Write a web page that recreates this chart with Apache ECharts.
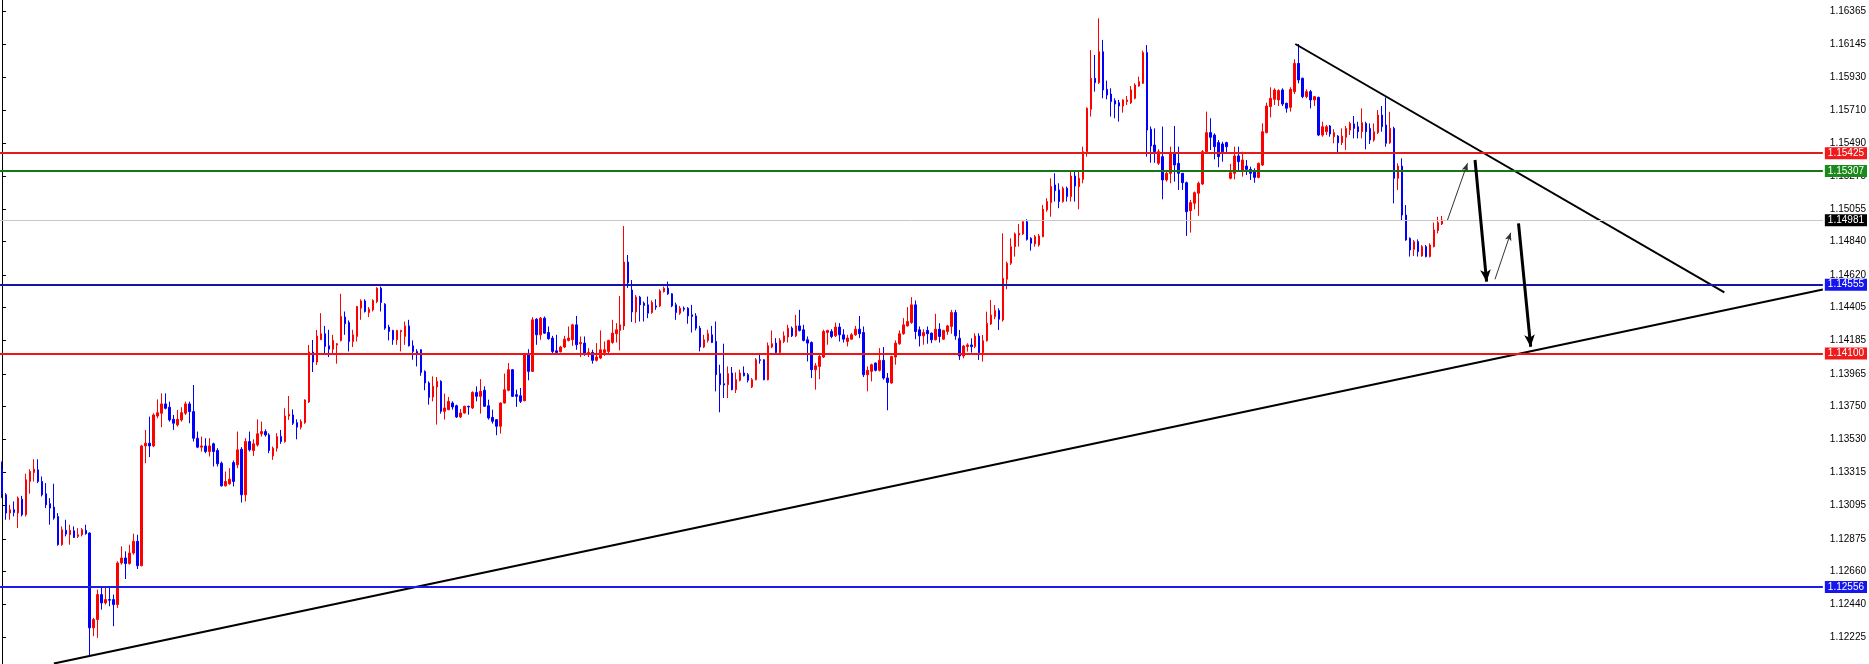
<!DOCTYPE html>
<html>
<head>
<meta charset="utf-8">
<style>html,body{margin:0;padding:0;background:#fff}#c{width:1869px;height:664px}</style>
<script src="https://cdn.jsdelivr.net/npm/echarts/dist/echarts.min.js"></script>
</head>
<body>
<div id="c"></div>
<script>
const opens = [
1.13335,1.13166,1.13045,1.13067,1.13045,1.13137,1.13034,1.13254,1.13313,1.13331,
1.13254,1.13173,1.13107,1.13085,1.13023,1.12836,1.12931,1.12902,1.12928,1.12891,
1.12902,1.12931,1.12913,1.12286,1.12341,1.12506,1.12451,1.12473,1.12473,1.12440,
1.12715,1.12748,1.12711,1.12781,1.12858,1.12697,1.13489,1.13507,1.13489,1.13687,
1.13705,1.13767,1.13745,1.13665,1.13628,1.13661,1.13705,1.13767,1.13716,1.13540,
1.13481,1.13489,1.13452,1.13503,1.13459,1.13375,1.13225,1.13239,1.13379,1.13364,
1.13467,1.13166,1.13518,1.13459,1.13496,1.13569,1.13584,1.13562,1.13423,1.13474,
1.13551,1.13518,1.13687,1.13694,1.13643,1.13613,1.13643,1.13780,1.14110,1.14044,
1.14191,1.14231,1.14151,1.14129,1.14156,1.14187,1.14341,1.14305,1.14180,1.14213,
1.14400,1.14448,1.14371,1.14389,1.14444,1.14532,1.14426,1.14275,1.14253,1.14191,
1.14244,1.14213,1.14283,1.14151,1.14114,1.14125,1.13982,1.13905,1.13813,1.13879,
1.13916,1.13718,1.13729,1.13773,1.13755,1.13681,1.13707,1.13751,1.13740,1.13843,
1.13817,1.13857,1.13755,1.13678,1.13663,1.13619,1.13773,1.13857,1.13993,1.13828,
1.13821,1.13788,1.14092,1.13982,1.14327,1.14224,1.14334,1.14239,1.14202,1.14118,
1.14112,1.14143,1.14187,1.14191,1.14290,1.14165,1.14169,1.14099,1.14107,1.14055,
1.14070,1.14107,1.14114,1.14173,1.14231,1.14253,1.14282,1.14705,1.14520,1.14375,
1.14473,1.14433,1.14422,1.14371,1.14415,1.14415,1.14510,1.14532,1.14495,1.14422,
1.14367,1.14400,1.14400,1.14356,1.14349,1.14268,1.14143,1.14187,1.14224,1.14180,
1.13967,1.13901,1.13894,1.13971,1.13861,1.13923,1.13971,1.13960,1.13879,1.13927,
1.14059,1.14059,1.13927,1.14143,1.14169,1.14107,1.14180,1.14209,1.14268,1.14217,
1.14283,1.14257,1.14191,1.14173,1.13993,1.14015,1.14077,1.14239,1.14246,1.14217,
1.14275,1.14224,1.14180,1.14195,1.14224,1.14261,1.14239,1.13960,1.13982,1.14037,
1.13989,1.14055,1.13938,1.13905,1.14077,1.14165,1.14231,1.14283,1.14305,1.14422,
1.14257,1.14217,1.14253,1.14235,1.14191,1.14261,1.14195,1.14246,1.14279,1.14371,
1.14201,1.14084,1.14146,1.14157,1.14146,1.14216,1.14106,1.14185,1.14296,1.14344,
1.14384,1.14322,1.14591,1.14697,1.14807,1.14884,1.14891,1.14972,1.14862,1.14825,
1.14818,1.14873,1.15050,1.15098,1.15215,1.15182,1.15105,1.15193,1.15138,1.15274,
1.15204,1.15252,1.15435,1.15715,1.15920,1.15891,1.16096,1.15847,1.15816,1.15772,
1.15759,1.15737,1.15766,1.15759,1.15788,1.15869,1.15887,1.16090,1.15583,1.15479,
1.15358,1.15402,1.15248,1.15292,1.15420,1.15358,1.15292,1.15230,1.15045,1.15094,
1.15160,1.15221,1.15435,1.15561,1.15545,1.15495,1.15486,1.15495,1.15259,1.15292,
1.15407,1.15314,1.15340,1.15318,1.15303,1.15265,1.15347,1.15561,1.15733,1.15781,
1.15777,1.15843,1.15755,1.15728,1.15832,1.16019,1.15920,1.15799,1.15832,1.15777,
1.15794,1.15545,1.15567,1.15605,1.15534,1.15538,1.15494,1.15530,1.15578,1.15618,
1.15600,1.15567,1.15622,1.15589,1.15512,1.15561,1.15677,1.15611,1.15494,1.15589,
1.15259,1.15340,1.15016,1.14862,1.14789,1.14840,1.14745,1.14807,1.14741,1.14807,
1.14913,1.14957];
const closes = [
1.13173,1.13045,1.13067,1.13049,1.13144,1.13034,1.13265,1.13320,1.13335,1.13254,
1.13166,1.13100,1.13078,1.13012,1.12836,1.12935,1.12906,1.12931,1.12884,1.12902,
1.12935,1.12909,1.12286,1.12341,1.12506,1.12451,1.12473,1.12469,1.12440,1.12715,
1.12748,1.12711,1.12781,1.12858,1.12697,1.13489,1.13507,1.13489,1.13694,1.13709,
1.13767,1.13738,1.13661,1.13639,1.13665,1.13709,1.13767,1.13716,1.13540,1.13481,
1.13489,1.13452,1.13489,1.13452,1.13371,1.13225,1.13254,1.13269,1.13254,1.13463,
1.13166,1.13518,1.13463,1.13503,1.13569,1.13584,1.13562,1.13459,1.13474,1.13551,
1.13518,1.13687,1.13698,1.13639,1.13613,1.13650,1.13793,1.14110,1.14044,1.14216,
1.14231,1.14147,1.14129,1.14187,1.14165,1.14345,1.14297,1.14180,1.14224,1.14411,
1.14448,1.14378,1.14393,1.14451,1.14532,1.14437,1.14268,1.14246,1.14191,1.14253,
1.14253,1.14283,1.14151,1.14114,1.14103,1.13975,1.13905,1.13810,1.13883,1.13916,
1.13718,1.13740,1.13784,1.13747,1.13681,1.13707,1.13751,1.13747,1.13843,1.13817,
1.13850,1.13751,1.13674,1.13652,1.13619,1.13773,1.13861,1.13993,1.13817,1.13817,
1.13784,1.14092,1.13982,1.14323,1.14224,1.14334,1.14235,1.14198,1.14114,1.14107,
1.14143,1.14195,1.14202,1.14290,1.14158,1.14173,1.14103,1.14107,1.14055,1.14077,
1.14125,1.14125,1.14187,1.14235,1.14257,1.14290,1.14705,1.14567,1.14375,1.14474,
1.14422,1.14418,1.14367,1.14437,1.14407,1.14514,1.14532,1.14495,1.14415,1.14371,
1.14400,1.14393,1.14349,1.14345,1.14268,1.14143,1.14191,1.14231,1.14173,1.13960,
1.13894,1.13892,1.13967,1.13861,1.13927,1.13971,1.13953,1.13923,1.13927,1.14059,
1.14055,1.13927,1.14151,1.14165,1.14107,1.14187,1.14217,1.14268,1.14217,1.14283,
1.14253,1.14187,1.14169,1.13993,1.14019,1.14081,1.14246,1.14253,1.14213,1.14275,
1.14224,1.14195,1.14202,1.14224,1.14261,1.14231,1.13960,1.13989,1.14026,1.13989,
1.14055,1.13938,1.13909,1.14081,1.14169,1.14231,1.14290,1.14312,1.14422,1.14246,
1.14217,1.14239,1.14231,1.14191,1.14261,1.14213,1.14253,1.14283,1.14371,1.14217,
1.14084,1.14150,1.14157,1.14146,1.14216,1.14106,1.14185,1.14300,1.14355,1.14384,
1.14327,1.14598,1.14697,1.14807,1.14891,1.14895,1.14972,1.14855,1.14829,1.14873,
1.14878,1.15054,1.15105,1.15204,1.15177,1.15105,1.15193,1.15138,1.15274,1.15208,
1.15259,1.15435,1.15722,1.15920,1.15891,1.16096,1.15843,1.15810,1.15766,1.15750,
1.15737,1.15777,1.15777,1.15843,1.15876,1.15898,1.16090,1.15578,1.15473,1.15435,
1.15435,1.15248,1.15292,1.15424,1.15347,1.15292,1.15230,1.15038,1.15098,1.15164,
1.15226,1.15435,1.15561,1.15530,1.15468,1.15402,1.15435,1.15468,1.15296,1.15407,
1.15369,1.15380,1.15318,1.15292,1.15265,1.15358,1.15567,1.15737,1.15788,1.15843,
1.15839,1.15750,1.15722,1.15847,1.16019,1.15909,1.15799,1.15832,1.15777,1.15799,
1.15545,1.15600,1.15600,1.15552,1.15561,1.15494,1.15538,1.15589,1.15622,1.15589,
1.15567,1.15627,1.15567,1.15512,1.15567,1.15677,1.15600,1.15490,1.15589,1.15259,
1.15340,1.15016,1.14851,1.14785,1.14840,1.14774,1.14807,1.14741,1.14818,1.14917,
1.14966,1.14983];
const highs = [
1.13386,1.13177,1.13100,1.13122,1.13155,1.13159,1.13305,1.13335,1.13401,1.13401,
1.13287,1.13243,1.13144,1.13239,1.13045,1.12957,1.13001,1.12968,1.12957,1.12946,
1.12946,1.12968,1.12917,1.12352,1.12539,1.12550,1.12550,1.12550,1.12506,1.12726,
1.12825,1.12792,1.12836,1.12909,1.12902,1.13496,1.13595,1.13683,1.13705,1.13797,
1.13837,1.13837,1.13782,1.13694,1.13727,1.13745,1.13782,1.13782,1.13892,1.13584,
1.13551,1.13540,1.13540,1.13511,1.13474,1.13386,1.13320,1.13342,1.13393,1.13584,
1.13481,1.13540,1.13584,1.13533,1.13665,1.13650,1.13599,1.13573,1.13485,1.13573,
1.13595,1.13738,1.13819,1.13731,1.13665,1.13665,1.13797,1.14157,1.14190,1.14256,
1.14367,1.14283,1.14257,1.14224,1.14169,1.14495,1.14378,1.14319,1.14257,1.14415,
1.14459,1.14459,1.14407,1.14459,1.14539,1.14543,1.14433,1.14290,1.14257,1.14257,
1.14257,1.14312,1.14323,1.14187,1.14129,1.14129,1.13989,1.13916,1.13949,1.13945,
1.13923,1.13835,1.13813,1.13784,1.13762,1.13733,1.13755,1.13755,1.13850,1.13883,
1.13931,1.13883,1.13795,1.13729,1.13667,1.13777,1.13967,1.14037,1.13997,1.13861,
1.13872,1.14103,1.14129,1.14341,1.14334,1.14341,1.14345,1.14279,1.14217,1.14224,
1.14151,1.14217,1.14279,1.14297,1.14349,1.14213,1.14213,1.14136,1.14125,1.14169,
1.14253,1.14180,1.14191,1.14323,1.14301,1.14481,1.14943,1.14752,1.14586,1.14487,
1.14481,1.14444,1.14477,1.14451,1.14459,1.14525,1.14543,1.14576,1.14499,1.14437,
1.14415,1.14411,1.14407,1.14422,1.14367,1.14283,1.14224,1.14257,1.14283,1.14312,
1.14026,1.14165,1.14015,1.14011,1.13975,1.13993,1.14015,1.13971,1.13938,1.14070,
1.14099,1.14063,1.14173,1.14253,1.14202,1.14202,1.14246,1.14290,1.14279,1.14356,
1.14389,1.14290,1.14213,1.14180,1.14037,1.14092,1.14257,1.14257,1.14261,1.14305,
1.14301,1.14261,1.14224,1.14235,1.14283,1.14349,1.14279,1.14015,1.14033,1.14041,
1.14136,1.14143,1.13971,1.14085,1.14187,1.14253,1.14334,1.14407,1.14473,1.14451,
1.14279,1.14261,1.14279,1.14239,1.14363,1.14301,1.14257,1.14290,1.14389,1.14389,
1.14256,1.14157,1.14168,1.14201,1.14234,1.14234,1.14223,1.14377,1.14454,1.14421,
1.14399,1.14895,1.14708,1.14862,1.14900,1.14957,1.14983,1.14988,1.14869,1.14884,
1.14891,1.15083,1.15127,1.15259,1.15292,1.15226,1.15204,1.15204,1.15310,1.15310,
1.15303,1.15468,1.15728,1.16107,1.16074,1.16317,1.16174,1.15905,1.15854,1.15788,
1.15777,1.15781,1.15803,1.15869,1.15887,1.15931,1.16103,1.16140,1.15601,1.15589,
1.15451,1.15601,1.15303,1.15468,1.15605,1.15468,1.15292,1.15237,1.15116,1.15171,
1.15237,1.15446,1.15700,1.15656,1.15556,1.15512,1.15501,1.15501,1.15354,1.15468,
1.15468,1.15435,1.15380,1.15336,1.15325,1.15362,1.15623,1.15759,1.15861,1.15854,
1.15847,1.15854,1.15759,1.15861,1.16046,1.16147,1.15925,1.15847,1.15843,1.15803,
1.15799,1.15633,1.15611,1.15611,1.15583,1.15545,1.15589,1.15605,1.15633,1.15671,
1.15633,1.15721,1.15633,1.15622,1.15622,1.15710,1.15737,1.15794,1.15699,1.15600,
1.15358,1.15391,1.15082,1.14868,1.14851,1.14855,1.14818,1.14818,1.14829,1.14966,
1.15005,1.15010];
const lows = [
1.13144,1.13001,1.13001,1.13023,1.12946,1.13023,1.13023,1.13173,1.13254,1.13243,
1.13155,1.13078,1.12968,1.13001,1.12829,1.12829,1.12891,1.12836,1.12880,1.12880,
1.12891,1.12902,1.12099,1.12231,1.12220,1.12407,1.12440,1.12429,1.12297,1.12418,
1.12704,1.12609,1.12704,1.12770,1.12675,1.12693,1.13375,1.13415,1.13481,1.13672,
1.13613,1.13731,1.13650,1.13595,1.13617,1.13650,1.13694,1.13639,1.13518,1.13474,
1.13452,1.13441,1.13419,1.13353,1.13353,1.13221,1.13221,1.13232,1.13221,1.13342,
1.13115,1.13122,1.13452,1.13423,1.13485,1.13551,1.13551,1.13441,1.13397,1.13452,
1.13503,1.13511,1.13661,1.13628,1.13533,1.13599,1.13635,1.13773,1.13978,1.14024,
1.14191,1.14103,1.14077,1.14103,1.14033,1.14180,1.14224,1.14114,1.14143,1.14180,
1.14323,1.14371,1.14341,1.14378,1.14433,1.14378,1.14257,1.14187,1.14158,1.14158,
1.14114,1.14158,1.14147,1.14059,1.14015,1.13953,1.13857,1.13762,1.13784,1.13630,
1.13703,1.13663,1.13725,1.13729,1.13674,1.13674,1.13703,1.13696,1.13733,1.13784,
1.13703,1.13747,1.13663,1.13637,1.13560,1.13571,1.13769,1.13850,1.13813,1.13747,
1.13773,1.13784,1.13923,1.13982,1.14158,1.14191,1.14231,1.14191,1.14103,1.14092,
1.14107,1.14136,1.14180,1.14151,1.14125,1.14077,1.14085,1.14077,1.14033,1.14048,
1.14063,1.14085,1.14092,1.14165,1.14173,1.14121,1.14256,1.14534,1.14309,1.14302,
1.14312,1.14312,1.14334,1.14363,1.14389,1.14407,1.14503,1.14488,1.14407,1.14323,
1.14356,1.14378,1.14297,1.14239,1.14253,1.14114,1.14136,1.14173,1.14169,1.13850,
1.13711,1.13806,1.13806,1.13857,1.13839,1.13916,1.13949,1.13909,1.13872,1.13923,
1.14033,1.13923,1.13923,1.14136,1.14103,1.14103,1.14169,1.14173,1.14209,1.14209,
1.14246,1.14180,1.14048,1.13938,1.13861,1.13931,1.14070,1.14158,1.14202,1.14209,
1.14180,1.14173,1.14147,1.14191,1.14217,1.14202,1.13945,1.13850,1.13916,1.13982,
1.13982,1.13927,1.13725,1.13901,1.14026,1.14158,1.14224,1.14279,1.14297,1.14195,
1.14147,1.14158,1.14165,1.14169,1.14187,1.14173,1.14191,1.14224,1.14231,1.14191,
1.14058,1.14069,1.14113,1.14106,1.14135,1.14058,1.14047,1.14179,1.14289,1.14327,
1.14256,1.14311,1.14525,1.14686,1.14741,1.14807,1.14884,1.14847,1.14781,1.14807,
1.14807,1.14869,1.15038,1.15005,1.15105,1.15061,1.15098,1.15105,1.15105,1.15105,
1.15054,1.15226,1.15402,1.15667,1.15832,1.15883,1.15788,1.15781,1.15667,1.15656,
1.15634,1.15693,1.15744,1.15750,1.15781,1.15865,1.15883,1.15402,1.15362,1.15362,
1.15347,1.15120,1.15237,1.15226,1.15237,1.15182,1.15182,1.14878,1.14900,1.15054,
1.15010,1.15215,1.15424,1.15446,1.15384,1.15332,1.15369,1.15429,1.15252,1.15252,
1.15303,1.15270,1.15281,1.15248,1.15230,1.15259,1.15340,1.15556,1.15662,1.15744,
1.15737,1.15737,1.15693,1.15700,1.15816,1.15887,1.15788,1.15788,1.15721,1.15737,
1.15538,1.15534,1.15545,1.15534,1.15490,1.15419,1.15479,1.15446,1.15545,1.15523,
1.15523,1.15523,1.15450,1.15486,1.15501,1.15552,1.15567,1.15468,1.15486,1.15093,
1.15181,1.14979,1.14846,1.14741,1.14745,1.14741,1.14741,1.14736,1.14736,1.14802,
1.14895,1.14950];

// price levels drawn as horizontal lines with tags on the price scale
const levelValues = [1.15425, 1.15307, 1.14981, 1.14555, 1.14100, 1.12556];
// price-scale tick labels
const tickValues = [1.16365,1.16145,1.15930,1.15710,1.15490,1.15275,1.15055,1.14840,1.14620,1.14405,
  1.14185,1.13965,1.13750,1.13530,1.13315,1.13095,1.12875,1.12660,1.12440,1.12225];
// trendlines [barIndex, price]
const trendUp = [[13.0, 1.12050], [456.5, 1.14524]];
const trendDown = [[324.25, 1.16147], [431.8, 1.14505]];
// projected path arrows [[barIndex, price], [barIndex, price]]
const thinArrows = [[[362.4, 1.14983], [367.4, 1.15358]], [[374.3, 1.14591], [378.25, 1.14899]]];
const thickArrows = [[[369.3, 1.15380], [372.2, 1.14575]], [[380.2, 1.14961], [383.25, 1.14145]]];

const slotCount = 457;
const priceMin = 1.12047, priceMax = 1.16438;

const categories = Array.from({length: slotCount}, (_, i) => String(i));
const candles = opens.map((o, i) => [o, closes[i], lows[i], highs[i]]);

const levelStyles = [
  {line: '#e41b1b', box: '#f01a1a', w: 2},
  {line: '#177517', box: '#1b8a1b', w: 2},
  {line: '#c8c8c8', box: '#000000', w: 1},
  {line: '#1616a6', box: '#1515f0', w: 2},
  {line: '#ee1515', box: '#f01a1a', w: 2},
  {line: '#1c1ce8', box: '#1515f0', w: 2}
];

const chart = echarts.init(document.getElementById('c'), null, {renderer: 'canvas'});
chart.setOption({
  animation: false,
  backgroundColor: '#ffffff',
  grid: {left: 0, right: 41, top: 0, bottom: 0, containLabel: false},
  xAxis: [
    {type: 'category', data: categories, show: false, boundaryGap: true},
    {type: 'value', min: -0.5, max: slotCount - 0.5, show: false}
  ],
  yAxis: {
    type: 'value', position: 'right', min: priceMin, max: priceMax,
    splitLine: {show: false},
    axisLine: {show: true, lineStyle: {color: '#000', width: 1}},
    axisTick: {show: true, inside: false, length: 4, lineStyle: {color: '#000'}, customValues: tickValues},
    axisLabel: {
      show: true, customValues: tickValues, margin: 7, color: '#000',
      fontFamily: 'Liberation Sans, Arial, sans-serif', fontSize: 10,
      formatter: v => v.toFixed(5)
    }
  },
  series: [
    {
      type: 'candlestick', data: candles, barWidth: 2,
      itemStyle: {color: '#ff0000', color0: '#0000ff', borderColor: '#ff0000', borderColor0: '#0000ff', borderWidth: 1},
      markLine: {
        silent: true, symbol: ['none', 'none'], animation: false, precision: 5,
        data: levelValues.map((v, i) => ({
          yAxis: v,
          lineStyle: {color: levelStyles[i].line, width: levelStyles[i].w, type: 'solid'},
          label: {
            show: true, position: 'end', distance: 2,
            formatter: () => v.toFixed(5),
            color: '#fff', backgroundColor: levelStyles[i].box,
            fontFamily: 'Liberation Sans, Arial, sans-serif', fontSize: 10,
            padding: [1, 3, 0, 3], lineHeight: 11
          }
        }))
      }
    },
    {
      type: 'line', xAxisIndex: 1, data: trendUp, symbol: 'none', silent: true,
      lineStyle: {color: '#000', width: 2}
    },
    {
      type: 'line', xAxisIndex: 1, data: trendDown, symbol: 'none', silent: true,
      lineStyle: {color: '#000', width: 2},
      markLine: {
        silent: true, animation: false, symbol: ['none', 'arrow'], precision: 5,
        label: {show: false},
        data: thinArrows.map(a => [
          {coord: a[0], lineStyle: {color: '#333', width: 1, type: 'solid'}, symbolSize: [5, 8]},
          {coord: a[1], lineStyle: {color: '#333', width: 1, type: 'solid'}, symbolSize: [5, 8]}
        ]).concat(thickArrows.map(a => [
          {coord: a[0], lineStyle: {color: '#000', width: 3, type: 'solid'}, symbolSize: [8, 12]},
          {coord: a[1], lineStyle: {color: '#000', width: 3, type: 'solid'}, symbolSize: [8, 12]}
        ]))
      }
    }
  ]
});
</script>
</body>
</html>
